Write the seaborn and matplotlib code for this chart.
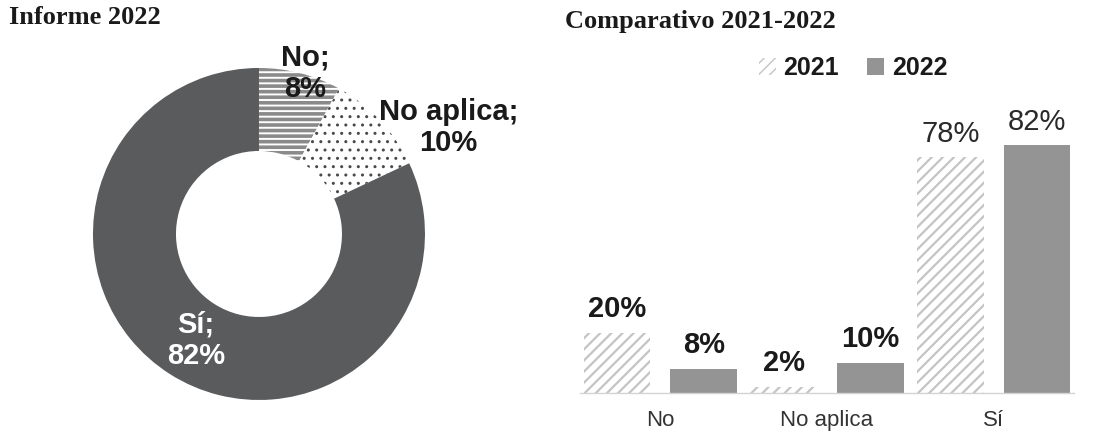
import numpy as np
import pandas as pd
import matplotlib
matplotlib.use("Agg")
import matplotlib.pyplot as plt
import matplotlib.patches as mpatches
import seaborn as sns

# Survey answers
categories = ["No", "No aplica", "Sí"]
share_2022 = [8, 10, 82]          # donut, informe 2022
values_2021 = [20, 2, 78]         # comparativo
values_2022 = [8, 10, 82]
years = ["2021", "2022"]

sns.set_theme(style="white")
plt.rcParams["font.family"] = ["Liberation Sans", "DejaVu Sans"]

DARK = "#5a5b5d"
BAR22 = "#949494"
HATCH21 = "#c4c4c4"

fig = plt.figure(figsize=(10.99, 4.36), dpi=100)

# ---------------- Donut: Informe 2022 ----------------
ax_pie = fig.add_axes([0.0846, 0.0826, 0.3021, 0.7615])
with plt.rc_context({"hatch.linewidth": 2.6}):
    wedges, _ = ax_pie.pie(
        share_2022,
        startangle=90,
        counterclock=False,
        radius=1.0,
        wedgeprops=dict(width=0.5, linewidth=0),
    )
styles = [
    dict(fc="white", ec="#8a8a8a", hatch="---", lw=2.6),
    dict(fc="white", ec="#4a4a4a", hatch="..", lw=1.0),
    dict(fc=DARK, ec=DARK, hatch=None, lw=1.0),
]
for w, st in zip(wedges, styles):
    w.set_facecolor(st["fc"])
    w.set_edgecolor(st["ec"])
    w.set_linewidth(0)
    if st["hatch"]:
        w.set_hatch(st["hatch"])
        if hasattr(w, "set_hatch_linewidth"):
            w.set_hatch_linewidth(st["lw"])
ax_pie.set_xlim(-1, 1)
ax_pie.set_ylim(-1, 1)
ax_pie.set_aspect("equal")
ax_pie.axis("off")

label_pos = [(0.28, 0.97, "#1a1a1a"), (1.14, 0.643, "#1a1a1a"), (-0.38, -0.64, "white")]
for cat, val, (x, y, col) in zip(categories, share_2022, label_pos):
    ax_pie.text(x, y, f"{cat};\n{val}%", ha="center", va="center",
                fontsize=21, fontweight="bold", color=col, linespacing=1.15,
                clip_on=False)

fig.text(0.008, 0.96, "Informe 2022", family="Liberation Serif",
         fontsize=19, fontweight="bold", color="#1a1a1a", ha="left", va="center")

# ---------------- Bars: Comparativo 2021-2022 ----------------
df = pd.DataFrame({
    "categoria": categories * 2,
    "valor": values_2021 + values_2022,
    "año": [years[0]] * 3 + [years[1]] * 3,
})

ax_bar = fig.add_axes([0.528, 0.0986, 0.449, 0.672])
sns.barplot(data=df, x="categoria", y="valor", hue="año", order=categories,
            hue_order=years, palette=["white", BAR22], width=1.04, gap=0.23,
            linewidth=0, legend=False, ax=ax_bar)

c21, c22 = ax_bar.containers[0], ax_bar.containers[1]
for p in c21:
    p.set_facecolor("white")
    p.set_edgecolor(HATCH21)
    p.set_linewidth(0)
    p.set_hatch("///")
    if hasattr(p, "set_hatch_linewidth"):
        p.set_hatch_linewidth(1.6)
for p in c22:
    p.set_facecolor(BAR22)
    p.set_edgecolor(BAR22)
    p.set_linewidth(0)

for cont in (c21, c22):
    labels = [f"{v:.0f}%" for v in cont.datavalues]
    txts = ax_bar.bar_label(cont, labels=labels, padding=7, fontsize=21,
                            fontweight="bold", color="#1a1a1a")
    # the tall "Sí" pair carries lighter labels
    txts[-1].set_fontweight("normal")
    txts[-1].set_color("#2a2a2a")

ax_bar.set_xlim(-0.48, 2.48)
ax_bar.set_ylim(0, 97)
ax_bar.set_xlabel("")
ax_bar.set_ylabel("")
ax_bar.set_yticks([])
ax_bar.tick_params(axis="x", length=0, pad=12, labelsize=16, labelcolor="#333333")
for s in ("top", "right", "left"):
    ax_bar.spines[s].set_visible(False)
ax_bar.spines["bottom"].set_color("#d4d4d4")
ax_bar.spines["bottom"].set_linewidth(1.0)

h21 = mpatches.Patch(facecolor="white", edgecolor=HATCH21, hatch="///", linewidth=0, label=years[0])
h22 = mpatches.Patch(facecolor=BAR22, edgecolor=BAR22, linewidth=0, label=years[1])
fig.legend(handles=[h21, h22], loc="center", bbox_to_anchor=(0.776, 0.843),
           ncol=2, frameon=False, handlelength=0.7, handleheight=0.7,
           handletextpad=0.3, columnspacing=1.1,
           prop={"size": 18, "weight": "bold"}, labelcolor="#1a1a1a")

fig.text(0.514, 0.95, "Comparativo 2021-2022", family="Liberation Serif",
         fontsize=19, fontweight="bold", color="#1a1a1a", ha="left", va="center")

fig.savefig("out.png", dpi=100, facecolor="white")
